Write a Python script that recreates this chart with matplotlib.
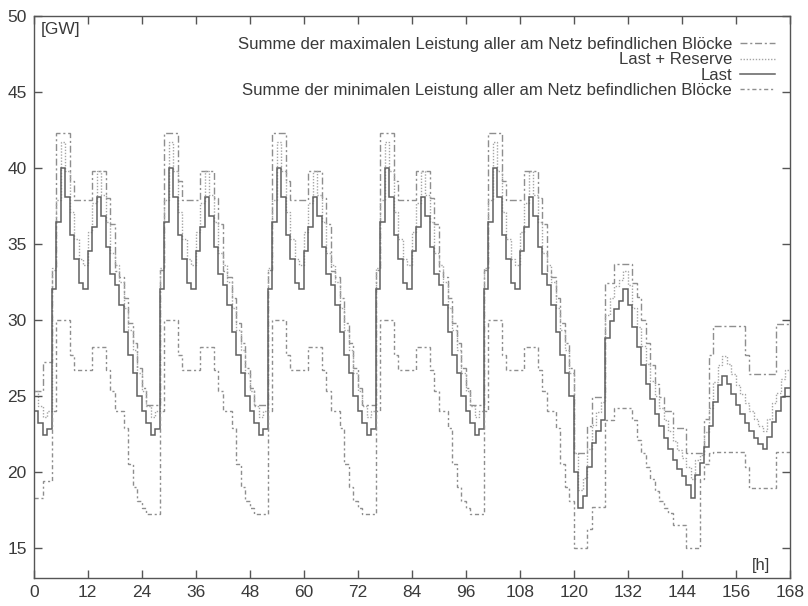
import numpy as np
import matplotlib
matplotlib.use("Agg")
import matplotlib.pyplot as plt

# Hourly values (GW), one list per day type
last_weekday = [24.0, 23.2, 22.4, 22.8, 32.0, 36.4, 40.0, 38.1, 35.6, 34.0, 32.4, 32.0,
                34.5, 36.1, 38.1, 36.8, 34.8, 33.0, 32.3, 31.0, 29.2, 27.7, 26.5, 25.0]
last_saturday = [20.0, 17.6, 18.4, 20.3, 21.9, 22.7, 23.4, 28.8, 29.9, 30.7, 31.2, 32.0,
                 31.0, 29.5, 28.2, 27.0, 25.8, 24.8, 23.8, 23.0, 22.2, 21.5, 20.8, 20.2]
last_sunday = [19.7, 19.1, 18.3, 19.8, 20.6, 21.6, 23.0, 24.6, 25.7, 26.3, 25.8, 25.1,
               24.4, 23.8, 23.2, 22.7, 22.2, 21.8, 21.5, 22.3, 23.3, 24.0, 24.9, 25.5]

reserve_weekday = [25.3, 24.3, 23.6, 24.0, 33.4, 37.9, 41.7, 39.8, 37.1, 35.3, 34.0, 33.6,
                   35.8, 37.7, 39.8, 38.2, 36.4, 34.4, 33.6, 32.5, 30.8, 29.3, 28.0, 26.5]
reserve_saturday = [21.2, 18.8, 19.6, 21.5, 23.1, 23.9, 24.6, 30.3, 31.4, 32.2, 32.6, 33.2,
                    32.3, 30.8, 29.5, 28.3, 27.1, 26.0, 25.0, 24.2, 23.4, 22.7, 22.0, 21.4]
reserve_sunday = [20.9, 20.3, 19.5, 20.8, 21.1, 22.6, 24.2, 25.9, 27.0, 27.6, 27.1, 26.4,
                  25.7, 25.1, 24.5, 24.0, 23.5, 23.0, 22.7, 23.5, 24.5, 25.2, 26.1, 26.7]

max_monday_night = [25.3, 25.3, 27.2, 27.2]
max_night = [25.5, 24.4, 24.4, 24.4]
max_day = [33.3, 42.3, 42.3, 42.3, 39.1, 37.85, 37.85, 37.85, 37.85, 39.8,
           39.8, 39.8, 38.0, 36.3, 33.2, 32.8, 31.4, 29.8, 28.5, 26.8]
max_saturday = [21.2, 21.2, 21.2, 23.0, 24.9, 24.9, 24.9, 32.4, 32.4, 33.7, 33.7, 33.7,
                33.7, 32.4, 31.5, 30.0, 28.5, 27.0, 25.8, 24.9, 24.0, 24.0, 22.9, 22.9]
max_sunday = [22.9, 21.2, 21.2, 21.2, 21.2, 23.5, 27.7, 29.6, 29.6, 29.6, 29.6, 29.6,
              29.6, 29.6, 27.7, 26.4, 26.4, 26.4, 26.4, 26.4, 26.4, 29.7, 29.7, 29.7]

min_monday_night = [18.3, 18.3, 19.4, 19.4]
min_night = [17.6, 17.2, 17.2, 17.2]
min_day = [24.0, 30.0, 30.0, 30.0, 27.7, 26.7, 26.7, 26.7, 26.7, 28.2,
           28.2, 28.2, 26.7, 25.3, 24.0, 24.0, 22.9, 20.5, 19.0, 18.1]
min_saturday = [15.0, 15.0, 15.0, 16.2, 17.7, 17.7, 17.7, 23.4, 23.4, 24.2, 24.2, 24.2,
                24.2, 23.4, 22.1, 21.2, 20.3, 19.5, 18.7, 18.1, 17.6, 17.3, 16.5, 16.5]
min_sunday = [16.5, 15.0, 15.0, 15.0, 19.5, 20.5, 21.2, 21.3, 21.3, 21.3, 21.3, 21.3,
              21.3, 21.3, 20.3, 18.9, 18.9, 18.9, 18.9, 18.9, 18.9, 21.3, 21.3, 21.3]

x_ticks = list(range(0, 169, 12))
y_ticks = [15, 20, 25, 30, 35, 40, 45, 50]

labels = [
    "Summe der maximalen Leistung aller am Netz befindlichen Blöcke",
    "Last + Reserve",
    "Last",
    "Summe der minimalen Leistung aller am Netz befindlichen Blöcke",
]

TEXT = "#3a3a3a"


def build_week():
    """Put the day lists together into one 168 hour week per series."""
    last = last_weekday * 5 + last_saturday + last_sunday
    reserve = reserve_weekday * 5 + reserve_saturday + reserve_sunday
    pmax = max_monday_night + max_day + (max_night + max_day) * 4 + max_saturday + max_sunday
    pmin = min_monday_night + min_day + (min_night + min_day) * 4 + min_saturday + min_sunday
    return np.array(pmax), np.array(reserve), np.array(last), np.array(pmin)


def plot_week(series):
    plt.rcParams['font.family'] = ['Liberation Sans', 'DejaVu Sans']
    fig = plt.figure(figsize=(8.08, 6.06), dpi=100)
    ax = fig.add_axes([0.0417, 0.046, 0.936, 0.928])

    edges = np.arange(169)
    styles = [
        dict(color="#8e8e8e", linestyle=(0, (5, 2, 1.5, 2)), lw=1.0),
        dict(color="#a5a5a5", linestyle=(0, (1, 1.2)), lw=1.0),
        dict(color="#606060", linestyle="-", lw=1.1),
        dict(color="#8e8e8e", linestyle=(0, (3, 2, 1.5, 2)), lw=1.0),
    ]
    for vals, label, st in zip(series, labels, styles):
        ax.stairs(vals, edges, baseline=None, label=label, **st)

    ax.set_xlim(0, 168)
    ax.set_ylim(13, 50)
    ax.set_xticks(x_ticks)
    ax.set_yticks(y_ticks)
    ax.tick_params(direction="in", top=True, right=True, length=6, width=1,
                   color="#555555", labelcolor=TEXT, labelsize=12.5, pad=5)
    for sp in ax.spines.values():
        sp.set_color("#555555")
        sp.set_linewidth(1.0)

    ax.text(0.009, 0.989, "[GW]", transform=ax.transAxes, ha="left", va="top",
            fontsize=12.5, color=TEXT)
    ax.text(0.962, 0.022, "[h]", transform=ax.transAxes, ha="center", va="center",
            fontsize=12, color=TEXT)

    leg = ax.legend(loc="upper right", bbox_to_anchor=(0.980, 0.962), frameon=False,
                    markerfirst=False, fontsize=12.1, labelspacing=0.02,
                    handlelength=2.1, handletextpad=0.45, borderpad=0, borderaxespad=0)
    for t in leg.get_texts():
        t.set_color(TEXT)

    fig.savefig("out.png", dpi=100, facecolor="white")


def main():
    series = build_week()
    plot_week(series)


if __name__ == "__main__":
    main()
